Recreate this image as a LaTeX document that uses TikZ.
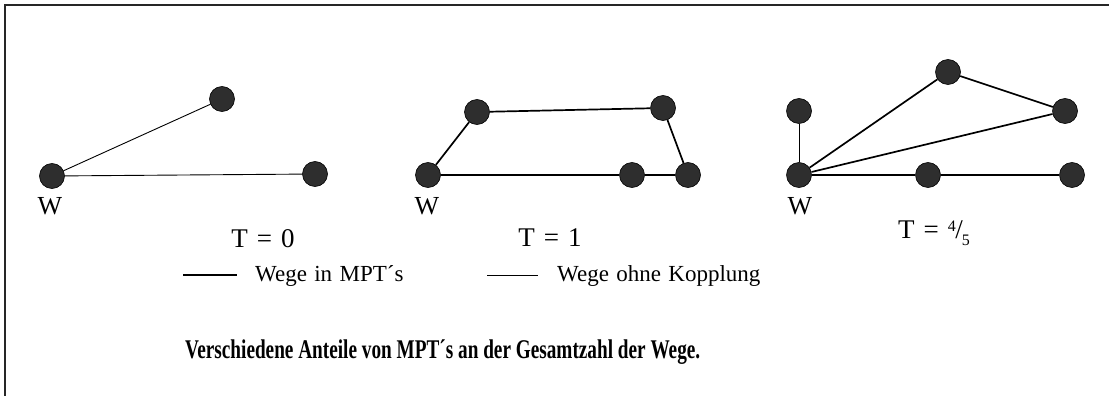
\documentclass[tikz,border=0pt]{standalone}
\usepackage{fontspec}
\setmainfont{Liberation Serif}
\newcommand\legspacing{\spaceskip=0.32em plus 0.1em\relax}
\begin{document}
\begin{tikzpicture}[x=1pt,y=-1pt,
  dot/.style={circle,fill=black!82,draw=black,line width=0.6pt,inner sep=0pt,minimum size=25pt},
  thinpath/.style={line width=0.9pt},
  mptpath/.style={line width=1.7pt},
  lbl/.style={inner sep=0pt,font=\fontsize{26}{28}\selectfont},
  tl/.style={inner sep=0pt,font=\fontsize{27}{30}\selectfont},
  leg/.style={inner sep=0pt,anchor=west,font=\fontsize{23}{26}\selectfont\legspacing},
  frame/.style={line width=1.4pt,black!85}]
\useasboundingbox (0,0) rectangle (1109,396);
\draw[frame] (1109,5) -- (5,5) -- (5,396);
% panel 1
\node[dot] (a1) at (52,176) {};
\node[dot] (a2) at (222,99) {};
\node[dot] (a3) at (315,174) {};
\draw[thinpath] (a1) -- (a2);
\draw[thinpath] (a1) -- (a3);
\node[lbl] (w1) at (50,206) {W};
\node[tl] (t1) at (263,239) {T\,\,=\,\,0};
% panel 2
\node[dot] (b1) at (428,175) {};
\node[dot] (b2) at (477,112) {};
\node[dot] (b3) at (663,108) {};
\node[dot] (b4) at (632,175) {};
\node[dot] (b5) at (688,175) {};
\draw[mptpath] (b1) -- (b2) -- (b3) -- (b5) -- (b4) -- (b1);
\node[lbl] (w2) at (427,206) {W};
\node[tl] (t2) at (550,238) {T\,\,=\,\,1};
% panel 3
\node[dot] (c1) at (799,175) {};
\node[dot] (c2) at (799,111) {};
\node[dot] (c3) at (948,72) {};
\node[dot] (c4) at (1065,111) {};
\node[dot] (c5) at (928,175) {};
\node[dot] (c6) at (1072,175) {};
\draw[thinpath] (c1) -- (c2);
\draw[mptpath] (c1) -- (c3) -- (c4) -- (c1);
\draw[mptpath] (c1) -- (c5) -- (c6);
\node[lbl] (w3) at (800,206) {W};
\node[tl] (t3) at (934,233) {T\,\,=\,\,\raisebox{0.6ex}{\fontsize{16}{17}\selectfont 4}\kern-0.5pt/\kern-1pt\raisebox{-0.55ex}{\fontsize{16}{17}\selectfont 5}};
% legend
\coordinate (l1a) at (183,275);
\coordinate (l1b) at (237,275);
\draw[mptpath] (l1a) -- (l1b);
\node[leg] (lt1) at (255,276) {Wege in MPT´s};
\coordinate (l2a) at (487,275);
\coordinate (l2b) at (538,275);
\draw[thinpath] (l2a) -- (l2b);
\node[leg] (lt2) at (557,276) {Wege ohne Kopplung};
% caption
\node[inner sep=0pt,anchor=west] (cap) at (185,352) {\resizebox{515pt}{\height}{\fontsize{27}{30}\selectfont\bfseries Verschiedene Anteile von MPT´s an der Gesamtzahl der Wege.}};
\end{tikzpicture}
\end{document}
